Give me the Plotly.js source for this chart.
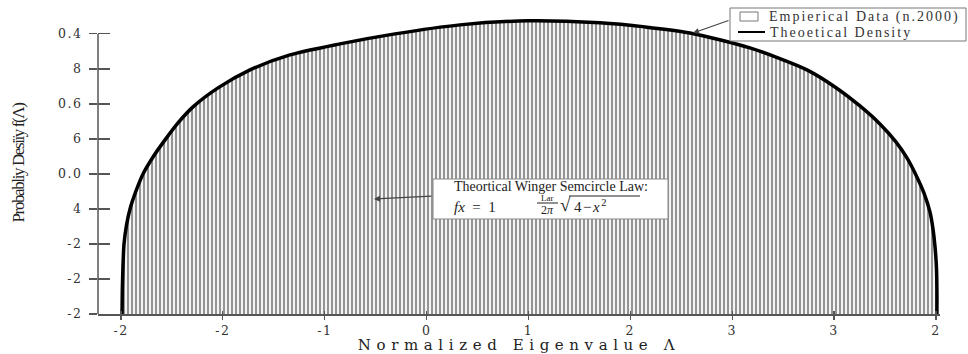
<!DOCTYPE html>
<html><head><meta charset="utf-8">
<script src="https://cdn.plot.ly/plotly-3.0.1.min.js"></script>
<style>
html,body{margin:0;padding:0;background:#fff;}
#chart{width:968px;height:354px;}
.xtitle{letter-spacing:5.6px;}
.ytitle{letter-spacing:-1.4px;}
.xtick text,.ytick text{letter-spacing:1.5px;}
</style></head><body><div id="chart"></div>
<script>
// density curve (x: eigenvalue, y: density)
const curveX = [-1.9951,-1.9936,-1.9902,-1.9853,-1.9730,-1.9558,-1.9264,-1.8920,-1.8429,-1.7840,-1.7202,-1.6466,-1.5239,-1.3669,-1.1706,-0.9252,-0.6552,-0.3362,-0.0025,
  0.3509,0.5718,0.7926,1.0871,1.2245,1.3669,1.5043,1.6270,1.7252,1.8037,1.8577,1.9019,1.9411,1.9706,1.9853,1.9951,2.0025,2.0049,2.0049];
const curveY = [0,0.0274,0.0560,0.0800,0.1017,0.1200,0.1406,0.1600,0.1794,0.1989,0.2183,0.2366,0.2583,0.2789,0.2960,0.3086,0.3200,0.3303,0.3349,
  0.3326,0.3280,0.3211,0.3040,0.2926,0.2789,0.2594,0.2377,0.2171,0.1966,0.1783,0.1589,0.1383,0.1166,0.0977,0.0777,0.0537,0.0274,0];
const xTickVals = [-2,-1.5,-1,-0.5,0,0.5,1,1.5,2];
const xTickText = ["-2","-2","-1","0","1","2","3","3","2"];
const yTickVals = [0,0.04,0.08,0.12,0.16,0.2,0.24,0.28,0.32];
const yTickText = ["-2","-2","-2","4","0.0","6","0.6","8","0.4"];
const seriesNames = ["Empierical Data (n.2000)","Theoetical Density"];
const xTitle = "Normalized Eigenvalue Λ";
const yTitle = "Probabliy Desiïy f(Λ)";
const boxTitle = "Theortical Winger Semcircle Law:";

const L=98, R=940, T=12, B=314;
const px2x = p => (p-L)/(R-L);
const py2y = p => (B-p)/(B-T);
const xRange = [-2.113, 2.02];
const yRange = [0, 0.345];
const dx = p => xRange[0] + (p-L)/(R-L)*(xRange[1]-xRange[0]);
const dy = p => yRange[0] + (B-p)/(B-T)*(yRange[1]-yRange[0]);

const traces = [
  {type:'scatter', x:curveX, y:curveY, mode:'lines', name:seriesNames[0],
   line:{width:0, color:'rgba(0,0,0,0)', shape:'spline', smoothing:0.8},
   fill:'tozeroy', fillcolor:'#ffffff',
   fillpattern:{shape:'|', size:4, solidity:0.55, fgcolor:'#949494', bgcolor:'#ffffff'},
   showlegend:false, hoverinfo:'skip'},
  {type:'scatter', x:curveX, y:curveY, mode:'lines', name:seriesNames[1], xaxis:'x2', yaxis:'y2',
   line:{color:'#000', width:3.5, shape:'spline', smoothing:0.8}, showlegend:false}
];

const tickFont = {family:'DejaVu Serif', size:12.5, color:'#333'};
const serif = 'Liberation Serif';
const pAnn = (x, y, text, font, xanchor) => ({x:px2x(x), y:py2y(y), xref:'paper', yref:'paper', xanchor:xanchor||'left', yanchor:'middle', showarrow:false, text:text, font:font});
const sp = (t, s) => '<span style="letter-spacing:'+s+'px">'+t+'</span>';

const layout = {
  width:968, height:354,
  margin:{l:L, r:968-R, t:T, b:354-B},
  paper_bgcolor:'#fff', plot_bgcolor:'#fff',
  showlegend:false,
  xaxis:{range:xRange, showline:true, linecolor:'#555', linewidth:1.5, ticks:'outside', ticklen:4, tickwidth:1.2, tickcolor:'#555',
    tickmode:'array', tickvals:xTickVals, ticktext:xTickText, tickfont:tickFont, showgrid:false, zeroline:false,
    title:{text:xTitle, font:{family:'DejaVu Serif', size:15, color:'#222'}, standoff:1}},
  xaxis2:{range:xRange, overlaying:'x', anchor:'y', side:'bottom', ticks:'inside', ticklen:3, tickwidth:1.2, tickcolor:'#555',
    tickmode:'array', tickvals:xTickVals, showticklabels:false, showgrid:false, zeroline:false, showline:false},
  yaxis:{range:yRange, showline:false, ticks:'outside', ticklen:8, tickwidth:1.2, tickcolor:'#555',
    tickmode:'array', tickvals:yTickVals, ticktext:yTickText, tickfont:tickFont, ticklabelstandoff:4, showgrid:false, zeroline:false,
    title:{text:yTitle, font:{family:serif, size:17, color:'#222'}, standoff:29}},
  yaxis2:{range:yRange, overlaying:'y', anchor:'x', side:'left', ticks:'inside', ticklen:12, tickwidth:1.2, tickcolor:'#555',
    tickmode:'array', tickvals:yTickVals, showticklabels:false, showgrid:false, zeroline:false, showline:false},
  shapes:[
    {type:'line', xref:'paper', yref:'y', x0:0, x1:0, y0:0, y1:yTickVals[yTickVals.length-1], line:{color:'#555', width:1.5}},
    // formula box
    {type:'rect', xref:'paper', yref:'paper', x0:px2x(433), x1:px2x(668), y0:py2y(219), y1:py2y(179), fillcolor:'#fff', line:{color:'#888', width:1}},
    {type:'line', xref:'paper', yref:'paper', x0:px2x(537), x1:px2x(558), y0:py2y(203), y1:py2y(203), line:{color:'#222', width:1}},
    {type:'line', xref:'paper', yref:'paper', x0:px2x(569), x1:px2x(640), y0:py2y(196), y1:py2y(196), line:{color:'#222', width:1}},
    // legend
    {type:'rect', xref:'paper', yref:'paper', x0:px2x(730), x1:px2x(966), y0:py2y(41), y1:py2y(8), fillcolor:'#fff', line:{color:'#777', width:1}},
    {type:'rect', xref:'paper', yref:'paper', x0:px2x(740), x1:px2x(758), y0:py2y(21), y1:py2y(12), fillcolor:'#fff', line:{color:'#777', width:1}},
    {type:'line', xref:'paper', yref:'paper', x0:px2x(738), x1:px2x(765), y0:py2y(32), y1:py2y(32), line:{color:'#000', width:2}}
  ],
  annotations:[
    {x:dx(693), y:dy(33), xref:'x', yref:'y', text:'', showarrow:true, ax:37, ay:-13, arrowhead:2, arrowsize:1, arrowwidth:1.2, arrowcolor:'#444'},
    {x:dx(374), y:dy(199), xref:'x', yref:'y', text:'', showarrow:true, ax:59, ay:-3, arrowhead:2, arrowsize:1, arrowwidth:1.2, arrowcolor:'#444'},
    pAnn(767, 16.5, sp(seriesNames[0], 2), {family:serif, size:14, color:'#333'}),
    pAnn(768, 32, sp(seriesNames[1], 2), {family:serif, size:14, color:'#333'}),
    pAnn(452, 186, boxTitle, {family:serif, size:14, color:'#222'}),
    pAnn(452, 207, '<i>fx</i>\u00a0\u00a0=\u00a0\u00a01', {family:serif, size:15, color:'#222'}),
    pAnn(547.5, 198, 'Lar', {family:serif, size:9, color:'#222'}, 'center'),
    pAnn(547.5, 209.5, '2<i>π</i>', {family:serif, size:12, color:'#222'}, 'center'),
    pAnn(565, 204.5, '√', {family:serif, size:19, color:'#222'}, 'center'),
    pAnn(572, 205.5, sp('4−<i>x</i><sup>2</sup>', 1.5), {family:serif, size:15, color:'#222'})
  ]
};

Plotly.newPlot('chart', traces, layout, {displayModeBar:false, staticPlot:true});
</script>
</body></html>
